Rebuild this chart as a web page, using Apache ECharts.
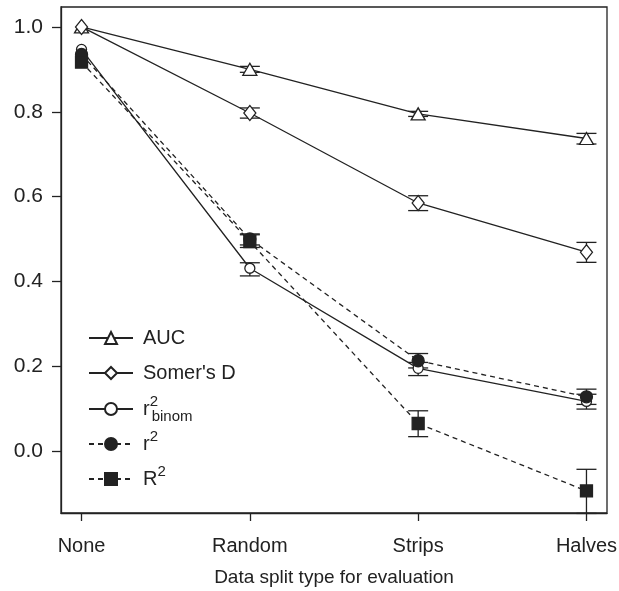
<!DOCTYPE html>
<html>
<head>
<meta charset="utf-8">
<script src="https://cdn.jsdelivr.net/npm/echarts@6/dist/echarts.min.js"></script>
<style>
  html, body { margin: 0; padding: 0; background: #fff; }
  #chart { width: 619px; height: 591px; }
</style>
</head>
<body>
<div id="chart"></div>
<script>
// categories on the x axis (placed at 1..4)
const categories = ['None', 'Random', 'Strips', 'Halves'];
const yTicks = [0, 0.2, 0.4, 0.6, 0.8, 1.0];

// means and error bar ends
const auc = [1.0, 0.900, 0.795, 0.737];
const aucLow = [1.0, 0.893, 0.789, 0.724];
const aucHigh = [1.0, 0.907, 0.801, 0.749];

const somersD = [1.0, 0.797, 0.585, 0.469];
const somersLow = [1.0, 0.785, 0.567, 0.445];
const somersHigh = [1.0, 0.809, 0.602, 0.492];

const rBinom = [0.947, 0.431, 0.195, 0.117];
const rBinomLow = [0.947, 0.413, 0.178, 0.099];
const rBinomHigh = [0.947, 0.444, 0.209, 0.134];

const r2 = [0.935, 0.500, 0.213, 0.128];
const r2Low = [0.935, 0.486, 0.196, 0.110];
const r2High = [0.935, 0.512, 0.230, 0.146];

const R2 = [0.917, 0.494, 0.065, -0.094];
const R2Low = [0.917, 0.480, 0.034, -0.147];
const R2High = [0.917, 0.510, 0.095, -0.043];

const seriesNames = ['AUC', "Somer's D", 'rbinom', 'r2', 'R2'];

const ink = '#222';
const font = 'Liberation Sans, Arial, sans-serif';

function pts(vals) {
  return vals.map((v, i) => [i + 1, v]);
}

// error bars: [x, low, high], only where there is a spread
const errData = [];
[[aucLow, aucHigh], [somersLow, somersHigh], [rBinomLow, rBinomHigh], [r2Low, r2High], [R2Low, R2High]]
  .forEach(([lo, hi]) => {
    lo.forEach((l, i) => {
      if (hi[i] - l > 0.001) errData.push([i + 1, l, hi[i]]);
    });
  });

const chart = echarts.init(document.getElementById('chart'), null, { renderer: 'canvas' });

const lineSeries = (name, vals, symbol, size, filled, dashed) => ({
  name: name,
  type: 'line',
  data: pts(vals),
  symbol: symbol,
  symbolSize: size,
  showAllSymbol: true,
  z: 3,
  lineStyle: { color: ink, width: 1.3, type: dashed ? [5, 4] : 'solid' },
  itemStyle: { color: filled ? ink : '#fff', borderColor: ink, borderWidth: 1.3 },
  emphasis: { disabled: true }
});

// one legend block per row so the rows sit at even steps
const legendRows = [338, 373, 409, 444, 479];
const hasSup = n => n === 'rbinom' || n === 'r2' || n === 'R2';
const legends = seriesNames.map((name, i) => ({
  orient: 'vertical',
  left: 88,
  top: legendRows[i] - (hasSup(name) ? 15 : 10),
  padding: 0,
  itemWidth: 44,
  itemHeight: 15,
  selectedMode: false,
  data: [name],
  formatter: function (n) {
    if (n === 'rbinom') return '{t|r}{sup|2}{sub|binom}';
    if (n === 'r2') return '{t|r}{sup|2}';
    if (n === 'R2') return '{t|R}{sup|2}';
    return '{t|' + n + '}';
  },
  textStyle: {
    color: ink,
    fontFamily: font,
    padding: [0, 0, 0, 5],
    rich: {
      t: { fontSize: 20, fontFamily: font, color: ink, lineHeight: 30 },
      sup: { fontSize: 15, fontFamily: font, color: ink, lineHeight: 14, verticalAlign: 'top', width: 2 },
      sub: { fontSize: 15, fontFamily: font, color: ink, lineHeight: 14, verticalAlign: 'bottom' }
    }
  }
}));

const option = {
  animation: false,
  backgroundColor: '#fff',
  grid: {
    left: 61, right: 12, top: 7, bottom: 78,
    outerBoundsMode: 'none',
    containLabel: false,
    show: true, borderColor: ink, borderWidth: 1.3
  },
  legend: legends,
  xAxis: {
    type: 'value',
    min: 0.878,
    max: 4.122,
    name: 'Data split type for evaluation',
    nameLocation: 'middle',
    nameGap: 55,
    nameTextStyle: { fontSize: 19, fontFamily: font, color: ink },
    axisLine: { show: true, onZero: false, lineStyle: { color: ink, width: 1.3 } },
    axisTick: { show: true, inside: false, length: 8, customValues: [1, 2, 3, 4], lineStyle: { color: ink, width: 1.3 } },
    axisLabel: {
      customValues: [1, 2, 3, 4],
      margin: 23,
      fontSize: 20,
      fontFamily: font,
      color: ink,
      formatter: v => categories[Math.round(v) - 1]
    },
    splitLine: { show: false }
  },
  yAxis: {
    type: 'value',
    min: -0.146,
    max: 1.047,
    axisLine: { show: true, onZero: false, lineStyle: { color: ink, width: 1.3 } },
    axisTick: { show: true, length: 9, customValues: yTicks, lineStyle: { color: ink, width: 1.3 } },
    axisLabel: {
      customValues: yTicks,
      margin: 18,
      fontSize: 21,
      fontFamily: font,
      color: ink,
      formatter: v => v.toFixed(1)
    },
    splitLine: { show: false }
  },
  series: [
    {
      type: 'custom',
      name: 'err',
      z: 2,
      data: errData,
      silent: true,
      renderItem: function (params, api) {
        const x = api.value(0);
        const lo = api.coord([x, api.value(1)]);
        const hi = api.coord([x, api.value(2)]);
        const w = 10;
        const st = { stroke: ink, lineWidth: 1.3 };
        return {
          type: 'group',
          children: [
            { type: 'line', shape: { x1: lo[0], y1: lo[1], x2: hi[0], y2: hi[1] }, style: st },
            { type: 'line', shape: { x1: lo[0] - w, y1: lo[1], x2: lo[0] + w, y2: lo[1] }, style: st },
            { type: 'line', shape: { x1: hi[0] - w, y1: hi[1], x2: hi[0] + w, y2: hi[1] }, style: st }
          ]
        };
      }
    },
    lineSeries('AUC', auc, 'triangle', [14, 12], false, false),
    lineSeries("Somer's D", somersD, 'diamond', [12, 15], false, false),
    lineSeries('rbinom', rBinom, 'circle', 10, false, false),
    lineSeries('r2', r2, 'circle', 12, true, true),
    lineSeries('R2', R2, 'rect', 12, true, true)
  ]
};

chart.setOption(option);
</script>
</body>
</html>
